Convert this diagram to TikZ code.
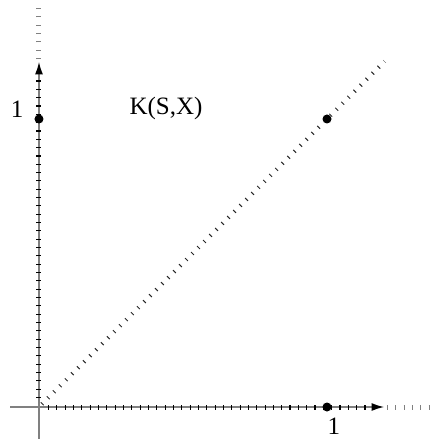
\documentclass[tikz,border=0pt]{standalone}
\usepackage{fontspec}
\setmainfont{Liberation Serif}
\usetikzlibrary{positioning,arrows.meta}
\tikzset{
  axisline/.style={draw=gray, line width=2pt, -{Latex[length=13pt, width=8pt, color=black]}},
  axisticks/.style={draw=black, line width=5pt, dash pattern=on 1.1pt off 7.23pt},
  extticks/.style={draw=gray, line width=5pt, dash pattern=on 1.1pt off 7.23pt},
  diagticks/.style={draw=black!85, line width=4pt, dash pattern=on 1pt off 7.5pt},
  dotmark/.style={circle, fill=black, minimum size=9pt, inner sep=0pt},
  numlabel/.style={font=\fontsize{25}{30}\selectfont, inner sep=0pt}
}

\begin{document}
\begin{tikzpicture}[x=288pt, y=288pt]
  \useasboundingbox (-0.1354,-0.1111) rectangle (1.3646,1.4132);
  % axes
  \coordinate (orig) at (0,0);
  \coordinate (xstart) at (-0.1,0);
  \coordinate (xend) at (1.2,0);
  \coordinate (ystart) at (0,-0.12);
  \coordinate (yend) at (0,1.2);
  \draw[axisline] (xstart) -- (xend);
  \draw[axisline] (ystart) -- (yend);
  \draw[axisticks] (0.031,0) -- (1.16,0);
  \draw[axisticks] (0,0.031) -- (0,1.16);
  \draw[extticks] (1.208,0) -- (1.36,0);
  \draw[extticks] (0,1.208) -- (0,1.4);
  % diagonal
  \coordinate (dstart) at (0.01,0.01);
  \coordinate (dend) at (1.2,1.2);
  \draw[diagticks] (dstart) -- (dend);
  % points
  \node[dotmark] (px) at (1,0) {};
  \node[dotmark] (py) at (0,1) {};
  \node[dotmark] (pxy) at (1,1) {};
  % labels
  \node[numlabel] (labx) at (1.024,-0.066) {1};
  \node[numlabel] (laby) at (-0.076,1.035) {1};
  \node[numlabel] (kname) at (0.441,1.038) {K(S,X)};
\end{tikzpicture}
\end{document}
